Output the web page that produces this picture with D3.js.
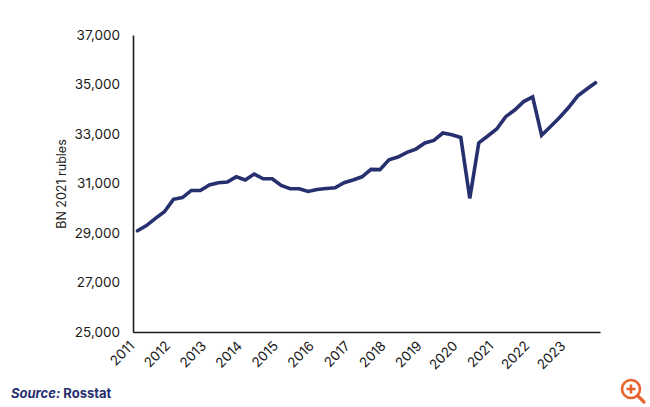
<!DOCTYPE html>
<html><head><meta charset="utf-8">
<style>html,body{margin:0;padding:0;background:#fff}svg{display:block}</style>
<script src="https://cdn.jsdelivr.net/npm/d3@7"></script></head>
<body><div id="c"></div>
<script>
const years = ["2011","2012","2013","2014","2015","2016","2017","2018","2019","2020","2021","2022","2023"];
const quarters = ["Q1","Q2","Q3","Q4"];
const values = [29090,29300,29590,29860,30360,30430,30720,30720,30940,31030,31060,31270,31140,31380,31190,31190,
30920,30790,30790,30680,30760,30800,30830,31030,31140,31270,31570,31560,31960,32070,32260,32390,
32640,32740,33040,32970,32860,30400,32640,32920,33200,33700,33970,34310,34500,32950,33300,33670,
34070,34530,34810,35070];
const yTicks = [25000,27000,29000,31000,33000,35000,37000];
const yLabel = "BN 2021 rubles";
const sourceLead = "Source:";
const sourceText = " Rosstat";
const font = "Inter, 'DejaVu Sans', sans-serif";
const ink = "#1a1a1a", navy = "#27306f", orange = "#e8622c";

const periods = years.flatMap(y => quarters.map(q => y + q));
const svg = d3.select("#c").append("svg").attr("width",650).attr("height",407);
const x = d3.scaleBand().domain(periods).range([133,600]);
const y = d3.scaleLinear().domain([25000,37000]).range([332,35]);

const yAxis = svg.append("g").attr("transform","translate(133,0)")
  .call(d3.axisLeft(y).tickValues(yTicks).tickSize(0).tickPadding(13).tickFormat(d3.format(",")));
const xAxis = svg.append("g").attr("transform","translate(0,332)")
  .call(d3.axisBottom(x).tickValues(years.map(d=>d+"Q1")).tickSize(0).tickFormat(d=>d.slice(0,4)));
[yAxis,xAxis].forEach(g=>{
  g.select(".domain").attr("stroke",ink).attr("stroke-width",1.6);
  g.selectAll("text").attr("fill",ink).attr("font-family",font);
});
yAxis.selectAll("text").attr("font-size",13.5);
xAxis.selectAll("text").attr("font-size",13.5).attr("text-anchor","end")
  .attr("x",-9).attr("y",8).attr("dy","0.71em")
  .attr("transform","rotate(-45 -9 8)");

svg.append("text").attr("transform","translate(66,184) rotate(-90)").attr("text-anchor","middle")
  .attr("font-family",font).attr("font-size",12.5).attr("fill",ink).text(yLabel);

svg.append("path").datum(values)
  .attr("fill","none").attr("stroke",navy).attr("stroke-width",3.6).attr("stroke-linejoin","miter").attr("stroke-linecap","round")
  .attr("d",d3.line().x((d,i)=>x(periods[i])+x.bandwidth()/2).y(d=>y(d)));

const src = svg.append("text").attr("x",11).attr("y",398).attr("font-family",font)
  .attr("font-size",13).attr("font-weight",700).attr("fill",navy);
src.append("tspan").attr("font-style","italic").text(sourceLead);
src.append("tspan").text(sourceText);

const icon = svg.append("g").attr("transform","translate(631,389)").attr("fill","none").attr("stroke",orange);
icon.append("circle").attr("r",9).attr("stroke-width",2.6);
icon.append("path").attr("d","M7,7L13,13").attr("stroke-width",3.2).attr("stroke-linecap","round");
icon.append("path").attr("d","M-4.5,0H4.5M0,-4.5V4.5").attr("stroke-width",2.6);
</script></body></html>
